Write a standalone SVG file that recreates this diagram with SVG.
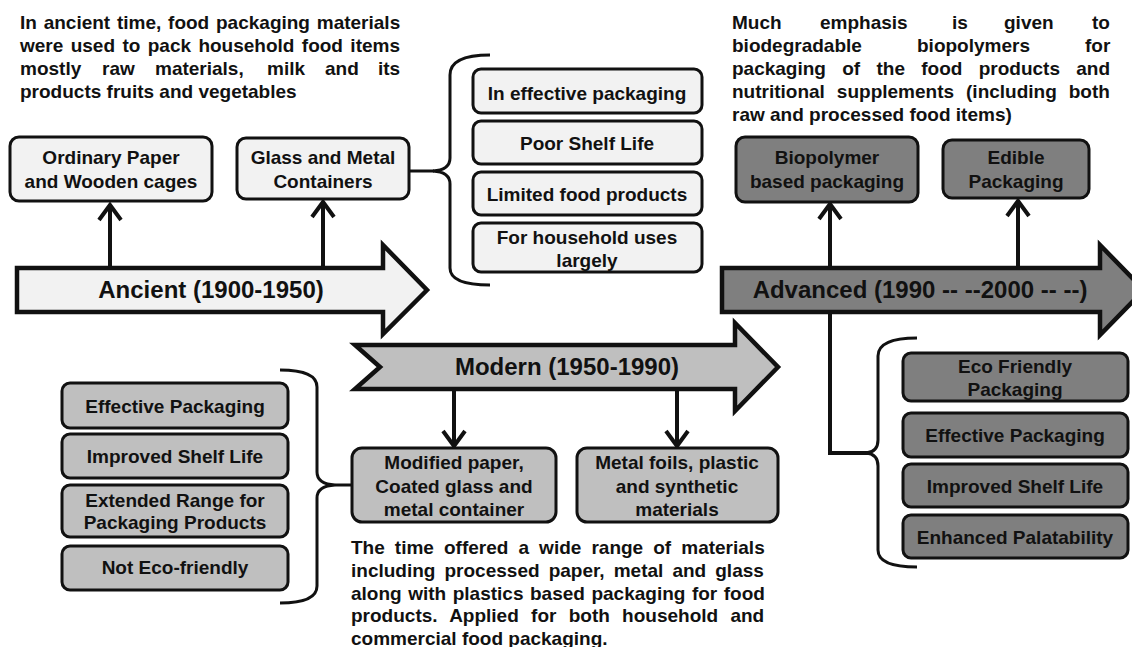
<svg xmlns="http://www.w3.org/2000/svg" width="1132" height="647" viewBox="0 0 1132 647">
<style>
text{font-family:"Liberation Sans",Arial,sans-serif;font-weight:bold;fill:#111;}
.p{font-size:19px;}
.b{font-size:19px;text-anchor:middle;}
.t{font-size:24px;text-anchor:middle;}
.box{stroke:#111;stroke-width:3;}
.l1{fill:#f2f2f2;}
.l2{fill:#bfbfbf;}
.l3{fill:#7f7f7f;}
.arr{stroke:#111;stroke-width:4.5;stroke-linejoin:miter;}
.c{fill:none;stroke:#111;stroke-width:4;stroke-linecap:butt;stroke-linejoin:miter;}
.br{fill:none;stroke:#111;stroke-width:3;}
</style>
<rect width="1132" height="647" fill="#fff"/>

<g id="connectors">
  <path class="c" d="M110,268 L110,205 M99,220 L110,205 L121,220"/>
  <path class="c" d="M323,268 L323,202 M312,217 L323,202 L334,217"/>
  <path class="c" d="M830,268 L830,204 M819,219 L830,204 L841,219"/>
  <path class="c" d="M1018,268 L1018,201 M1007,216 L1018,201 L1029,216"/>
  <path class="c" d="M830,312 L830,453 L868,453"/>
  <path class="c" d="M454,389 L454,445 M443,431 L454,446 L465,431"/>
  <path class="c" d="M677,389 L677,445 M666,431 L677,446 L688,431"/>
  <path class="br" d="M409,171 L434,171"/>
  <path class="br" d="M335,485 L352,485"/>
  <path class="br" d="M490,55 Q450,55 450,75 L450,158 Q450,170 433,171 Q450,172 450,184 L450,268 Q450,285 490,285"/>
  <path class="br" d="M280,370 Q317,370 317,387 L317,472 Q317,484 335,485 Q317,486 317,498 L317,586 Q317,603 280,603"/>
  <path class="br" d="M917,338 Q878,338 878,356 L878,440 Q878,452 866,453 Q878,454 878,466 L878,550 Q878,567 917,567"/>
</g>

<g id="ancient-note">
  <text class="p" x="20" y="29" word-spacing="1.5">In ancient time, food packaging materials</text>
  <text class="p" x="20" y="52" word-spacing="2.1">were used to pack household food items</text>
  <text class="p" y="75"><tspan x="20">mostly</tspan><tspan x="102">raw</tspan><tspan x="155">materials,</tspan><tspan x="267">milk</tspan><tspan x="325">and</tspan><tspan x="378">its</tspan></text>
  <text class="p" x="20" y="98">products fruits and vegetables</text>
</g>

<g id="advanced-note">
  <text class="p" y="29"><tspan x="732">Much</tspan><tspan x="820">emphasis</tspan><tspan x="952">is</tspan><tspan x="1004">given</tspan><tspan x="1092">to</tspan></text>
  <text class="p" y="52"><tspan x="732">biodegradable</tspan><tspan x="917">biopolymers</tspan><tspan x="1085">for</tspan></text>
  <text class="p" x="732" y="75" word-spacing="11">packaging of the food products and</text>
  <text class="p" x="732" y="98" word-spacing="6.7">nutritional supplements (including both</text>
  <text class="p" x="732" y="121">raw and processed food items)</text>
</g>

<g id="modern-note">
  <text class="p" x="351" y="554" word-spacing="4.8">The time offered a wide range of materials</text>
  <text class="p" x="351" y="577" word-spacing="3.8">including processed paper, metal and glass</text>
  <text class="p" x="351" y="600" word-spacing="1.25">along with plastics based packaging for food</text>
  <text class="p" x="351" y="622" word-spacing="7">products. Applied for both household and</text>
  <text class="p" x="351" y="645">commercial food packaging.</text>
</g>

<g id="ancient-arrow">
  <polygon class="arr l1" points="17,268 383,268 383,245 427,290 383,334 383,312 17,312"/>
  <text class="t" x="211" y="298">Ancient (1900-1950)</text>
</g>
<g id="modern-arrow">
  <polygon class="arr l2" points="355,345 735,345 735,323 778,367 735,411 735,389 355,389 380,367"/>
  <text class="t" x="567" y="375">Modern (1950-1990)</text>
</g>
<g id="advanced-arrow">
  <polygon class="arr l3" points="722,268 1100,268 1100,245 1144,290 1100,335 1100,312 722,312"/>
  <text class="t" x="920" y="298">Advanced (1990 -- --2000 -- --)</text>
</g>

<g id="ordinary-paper">
  <rect class="box l1" x="10" y="137" width="202" height="64" rx="9"/>
  <text class="b" x="111" y="164">Ordinary Paper</text>
  <text class="b" x="111" y="188">and Wooden cages</text>
</g>
<g id="glass-metal">
  <rect class="box l1" x="237" y="138" width="172" height="61" rx="9"/>
  <text class="b" x="323" y="164">Glass and Metal</text>
  <text class="b" x="323" y="188">Containers</text>
</g>
<g id="a-ineffective">
  <rect class="box l1" x="473" y="69" width="229" height="44" rx="8"/>
  <text class="b" x="587" y="100">In effective packaging</text>
</g>
<g id="a-poor-shelf">
  <rect class="box l1" x="473" y="121" width="229" height="43" rx="8"/>
  <text class="b" x="587" y="150">Poor Shelf Life</text>
</g>
<g id="a-limited">
  <rect class="box l1" x="473" y="172" width="229" height="43" rx="8"/>
  <text class="b" x="587" y="201">Limited food products</text>
</g>
<g id="a-household">
  <rect class="box l1" x="473" y="223" width="229" height="49" rx="8"/>
  <text class="b" x="587" y="244">For household uses</text>
  <text class="b" x="587" y="267">largely</text>
</g>

<g id="biopolymer">
  <rect class="box l3" x="736" y="137" width="182" height="65" rx="9"/>
  <text class="b" x="827" y="164">Biopolymer</text>
  <text class="b" x="827" y="188">based packaging</text>
</g>
<g id="edible">
  <rect class="box l3" x="943" y="140" width="146" height="58" rx="9"/>
  <text class="b" x="1016" y="164">Edible</text>
  <text class="b" x="1016" y="188">Packaging</text>
</g>
<g id="d-eco">
  <rect class="box l3" x="903" y="353" width="225" height="48" rx="8"/>
  <text class="b" x="1015" y="373">Eco Friendly</text>
  <text class="b" x="1015" y="396">Packaging</text>
</g>
<g id="d-effective">
  <rect class="box l3" x="903" y="413" width="225" height="44" rx="8"/>
  <text class="b" x="1015" y="442">Effective Packaging</text>
</g>
<g id="d-shelf">
  <rect class="box l3" x="903" y="464" width="225" height="43" rx="8"/>
  <text class="b" x="1015" y="493">Improved Shelf Life</text>
</g>
<g id="d-palatability">
  <rect class="box l3" x="903" y="515" width="225" height="43" rx="8"/>
  <text class="b" x="1015" y="544">Enhanced Palatability</text>
</g>

<g id="modified-paper">
  <rect class="box l2" x="352" y="448" width="204" height="74" rx="10"/>
  <text class="b" x="454" y="469">Modified paper,</text>
  <text class="b" x="454" y="493">Coated glass and</text>
  <text class="b" x="454" y="516">metal container</text>
</g>
<g id="metal-foils">
  <rect class="box l2" x="577" y="448" width="201" height="74" rx="10"/>
  <text class="b" x="677" y="469">Metal foils, plastic</text>
  <text class="b" x="677" y="493">and synthetic</text>
  <text class="b" x="677" y="516">materials</text>
</g>
<g id="m-effective">
  <rect class="box l2" x="62" y="383" width="226" height="45" rx="8"/>
  <text class="b" x="175" y="413">Effective Packaging</text>
</g>
<g id="m-shelf">
  <rect class="box l2" x="62" y="434" width="226" height="44" rx="8"/>
  <text class="b" x="175" y="463">Improved Shelf Life</text>
</g>
<g id="m-range">
  <rect class="box l2" x="62" y="485" width="226" height="52" rx="8"/>
  <text class="b" x="175" y="507">Extended Range for</text>
  <text class="b" x="175" y="529">Packaging Products</text>
</g>
<g id="m-not-eco">
  <rect class="box l2" x="62" y="546" width="226" height="44" rx="8"/>
  <text class="b" x="175" y="574">Not Eco-friendly</text>
</g>
</svg>
